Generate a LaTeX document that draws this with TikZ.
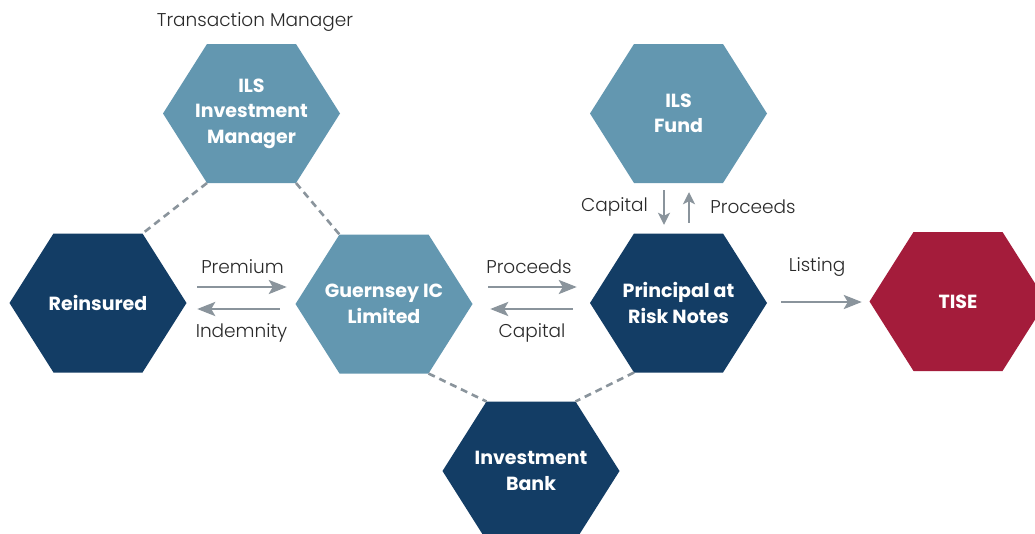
\documentclass[tikz,border=0pt]{standalone}
\usepackage{fontspec}
\setmainfont{Poppins}[UprightFont=* Light, BoldFont=* Bold]
\usetikzlibrary{arrows.meta}
\definecolor{navy}{HTML}{133D65}
\definecolor{teal}{HTML}{6397B0}
\definecolor{crimson}{HTML}{A41C3B}
\definecolor{arrowgray}{HTML}{8A949C}
\definecolor{labelgray}{HTML}{2A2A2A}
\newcommand{\hexagon}[5]{%
  \coordinate (#1-w)  at (#2-88.5,#3);
  \coordinate (#1-tl) at (#2-44.5,#3-69.5);
  \coordinate (#1-tr) at (#2+44.5,#3-69.5);
  \coordinate (#1-e)  at (#2+88.5,#3);
  \coordinate (#1-br) at (#2+44.5,#3+69.5);
  \coordinate (#1-bl) at (#2-44.5,#3+69.5);
  \fill[#4] (#1-w) -- (#1-tl) -- (#1-tr) -- (#1-e) -- (#1-br) -- (#1-bl) -- cycle;
  \node[hexlabel] (#1) at (#2,#3) {#5};
}
\begin{document}
\begin{tikzpicture}[x=1pt,y=-1pt,
  hexnavy/.style={fill=navy},
  hexteal/.style={fill=teal},
  hexred/.style={fill=crimson},
  hexlabel/.style={minimum width=177pt, minimum height=139pt, inner sep=0pt,
    align=center, text=white, font=\bfseries\fontsize{19}{25.5}\selectfont},
  lbl/.style={text=labelgray, inner sep=0pt, font=\fontsize{18.5}{22}\selectfont},
  flow/.style={draw=arrowgray, line width=2.8pt, -{Stealth[length=18pt,width=14pt,inset=4pt]}},
  vflow/.style={draw=arrowgray, line width=2.8pt, -{Stealth[length=12pt,width=12pt,inset=3pt]}},
  link/.style={draw=arrowgray, line width=2.6pt, dash pattern=on 7pt off 5pt}
]
\clip (0,0) rectangle (1035,533);
\fill[white] (0,0) rectangle (1035,533);

\hexagon{reins}{98}{303}{hexnavy}{Reinsured}
\hexagon{ilsim}{251.5}{113.5}{hexteal}{ILS\\Investment\\Manager}
\hexagon{guern}{384}{304}{hexteal}{Guernsey IC\\Limited}
\hexagon{ib}{531}{471}{hexnavy}{Investment\\Bank}
\hexagon{prn}{678.5}{303}{hexnavy}{Principal at\\Risk Notes}
\hexagon{fund}{678.5}{113.5}{hexteal}{ILS\\Fund}
\hexagon{tise}{958}{301.5}{hexred}{TISE}

\draw[link] (ilsim-bl) -- (reins-tr);
\draw[link] (ilsim-br) -- (guern-tl);
\draw[link] (guern-br) -- (ib-tl);
\draw[link] (prn-bl) -- (ib-tr);

\draw[flow] ([shift={(10.5,-16)}]reins.east) -- ([shift={(-8.5,-17)}]guern.west);
\draw[flow] ([shift={(-15.5,5)}]guern.west) -- ([shift={(10.5,6)}]reins.east);
\draw[flow] ([shift={(15.5,-17)}]guern.east) -- ([shift={(-13,-16)}]prn.west);
\draw[flow] ([shift={(-17,6)}]prn.west) -- ([shift={(17.5,5)}]guern.east);
\draw[flow] ([shift={(14,-1)}]prn.east) -- ([shift={(-7.5,0.5)}]tise.west);
\draw[vflow] ([shift={(-14.5,7)}]fund.south) -- ([shift={(-14.5,-8.5)}]prn.north);
\draw[vflow] ([shift={(10.5,-10.5)}]prn.north) -- ([shift={(10.5,9)}]fund.south);

\node[lbl] (tm) at (255,22) {Transaction Manager};
\node[lbl] (lprem) at (242.5,267) {Premium};
\node[lbl] (lind) at (241.5,333) {Indemnity};
\node[lbl] (lproc) at (529,267) {Proceeds};
\node[lbl] (lcap) at (532,333) {Capital};
\node[lbl] (llist) at (817,267) {Listing};
\node[lbl] (lcapv) at (614.5,207) {Capital};
\node[lbl] (lprocv) at (753,207) {Proceeds};
\end{tikzpicture}
\end{document}
